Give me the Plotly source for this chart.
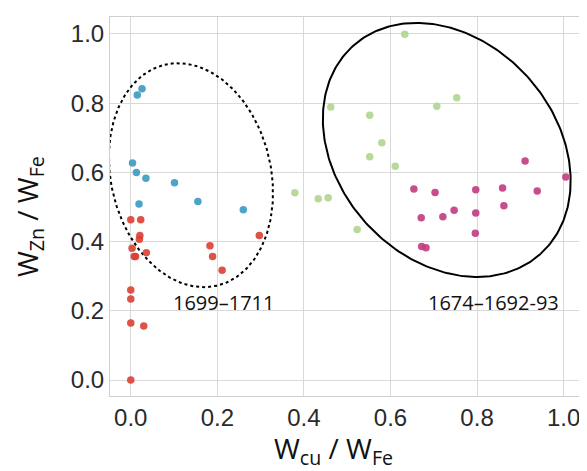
import numpy as np
import plotly.graph_objects as go

# Data
blue_x = [0.015, 0.026, 0.004, 0.013, 0.035, 0.101, 0.155, 0.260, 0.019]
blue_y = [0.824, 0.842, 0.627, 0.600, 0.583, 0.570, 0.516, 0.492, 0.509]

red_x = [0.000, 0.023, 0.021, 0.020, 0.003, 0.011, 0.008, 0.036, 0.183, 0.189,
         0.211, 0.297, 0.000, 0.000, 0.000, 0.030, 0.000]
red_y = [0.463, 0.463, 0.418, 0.407, 0.381, 0.357, 0.357, 0.368, 0.388, 0.357,
         0.317, 0.418, 0.260, 0.234, 0.165, 0.156, 0.000]

green_x = [0.633, 0.462, 0.552, 0.707, 0.753, 0.580, 0.552, 0.611, 0.379, 0.433, 0.456, 0.523]
green_y = [0.999, 0.789, 0.765, 0.791, 0.816, 0.686, 0.645, 0.618, 0.541, 0.524, 0.527, 0.435]

mag_x = [0.911, 1.005, 0.654, 0.703, 0.797, 0.859, 0.939, 0.671, 0.721, 0.747,
         0.797, 0.862, 0.796, 0.672, 0.682]
mag_y = [0.633, 0.587, 0.552, 0.542, 0.550, 0.555, 0.546, 0.469, 0.472, 0.491,
         0.483, 0.504, 0.424, 0.386, 0.382]

tick_vals = [0.0, 0.2, 0.4, 0.6, 0.8, 1.0]
tick_text = ["0.0", "0.2", "0.4", "0.6", "0.8", "1.0"]

x_title = "W<sub>cu</sub> / W<sub>Fe</sub>"
y_title = "W<sub>Zn</sub> / W<sub>Fe</sub>"

group_labels = ["1699–1711", "1674–1692-93"]
label_x = [0.215, 0.839]
label_y = [0.223, 0.223]

# Ellipse parameters (centre in data units, semi-axes in screen pixels, angle in degrees)
PX_X = 433.0
PX_Y = 346.0


def ellipse(cx, cy, a, b, theta_deg, n=300):
    t = np.linspace(0, 2 * np.pi, n)
    th = np.radians(theta_deg)
    dx = a * np.cos(th) * np.cos(t) - b * np.sin(th) * np.sin(t)
    dy = a * np.sin(th) * np.cos(t) + b * np.cos(th) * np.sin(t)
    return cx + dx / PX_X, cy - dy / PX_Y


fig = go.Figure()

ex1, ey1 = ellipse(0.139, 0.592, 113.5, 80.0, 76.7)
ex2, ey2 = ellipse(0.730, 0.665, 140.0, 109.0, 47.8)
fig.add_trace(go.Scatter(x=ex1, y=ey1, mode="lines",
                         line=dict(color="black", width=2, dash="dot"), hoverinfo="skip"))
fig.add_trace(go.Scatter(x=ex2, y=ey2, mode="lines",
                         line=dict(color="black", width=2), hoverinfo="skip"))

marker_common = dict(size=7.5, opacity=0.9, line=dict(width=0))
fig.add_trace(go.Scatter(x=blue_x, y=blue_y, mode="markers",
                         marker=dict(color="#3a9ac2", **marker_common)))
fig.add_trace(go.Scatter(x=red_x, y=red_y, mode="markers",
                         marker=dict(color="#db3f34", **marker_common)))
fig.add_trace(go.Scatter(x=green_x, y=green_y, mode="markers",
                         marker=dict(color="#afd68e", **marker_common)))
fig.add_trace(go.Scatter(x=mag_x, y=mag_y, mode="markers",
                         marker=dict(color="#c23a80", **marker_common)))

for lx, ly, lt in zip(label_x, label_y, group_labels):
    fig.add_annotation(x=lx, y=ly, text=lt, showarrow=False,
                       font=dict(family="Open Sans, Liberation Sans, sans-serif", size=20, color="#111"))

title_font = dict(family="Open Sans, Liberation Sans, sans-serif", size=28, color="#111")

# axis titles as annotations for precise placement
fig.add_annotation(xref="paper", yref="paper", x=0.468, y=0, xanchor="center", yanchor="middle",
                   yshift=-54, text=x_title, showarrow=False, font=title_font)
fig.add_annotation(xref="paper", yref="paper", x=0, y=0.472, xanchor="center", yanchor="middle",
                   xshift=-81, textangle=-90, text=y_title, showarrow=False, font=title_font)

axis_common = dict(
    tickvals=tick_vals, ticktext=tick_text,
    showgrid=True, gridcolor="#d9d9d9", gridwidth=1,
    zeroline=False, showline=True, linecolor="#d0d0d0", linewidth=1, mirror=True,
    ticks="", automargin=False,
    tickfont=dict(family="Liberation Sans, Arial, sans-serif", size=24, color="#2a2a2a"),
)

fig.update_layout(
    width=579, height=463,
    margin=dict(l=102, r=0, t=9, b=75),
    paper_bgcolor="white", plot_bgcolor="white",
    showlegend=False,
    xaxis=dict(range=[-0.048, 1.054], **axis_common),
    yaxis=dict(range=[-0.046, 1.049], **axis_common),
)

fig.write_html("out.html")
